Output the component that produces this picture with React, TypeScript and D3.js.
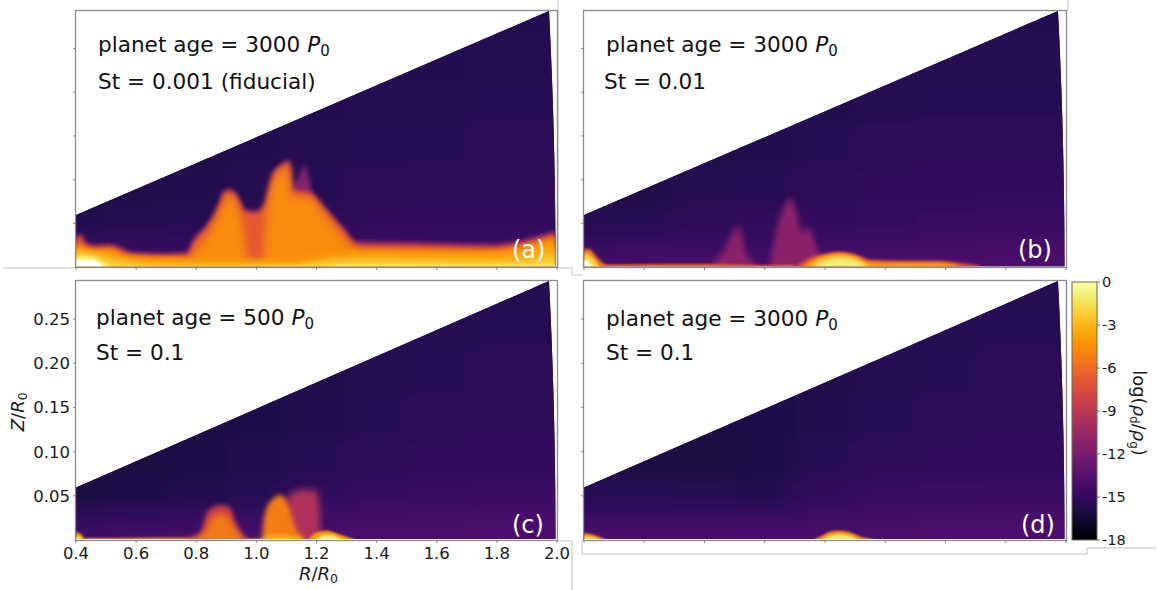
import React from 'react';
import * as d3 from 'd3';

type Pt = [number, number];

// background log(rho_d/rho_g) on a coarse R/Z grid, rows run from the midplane upward
const bgR = [0.4, 0.6, 0.8, 1.0, 1.2, 1.4, 1.6, 1.8, 2.0];
const bgZ = [0.008, 0.025, 0.05, 0.09, 0.14, 0.19, 0.24, 0.29];
const bgA = [
  [-14.7, -14.7, -14.7, -14.7, -14.7, -14.5, -14.5, -14.5, -14.5],
  [-15.2, -15.1, -15.0, -15.0, -14.9, -14.8, -14.8, -14.7, -14.7],
  [-15.6, -15.5, -15.4, -15.4, -15.3, -15.1, -15.0, -15.0, -15.0],
  [-15.8, -15.7, -15.6, -15.5, -15.4, -15.3, -15.2, -15.2, -15.2],
  [-15.8, -15.8, -15.7, -15.6, -15.5, -15.4, -15.4, -15.3, -15.3],
  [-15.8, -15.8, -15.7, -15.7, -15.6, -15.5, -15.5, -15.4, -15.4],
  [-15.8, -15.8, -15.8, -15.7, -15.7, -15.6, -15.6, -15.5, -15.5],
  [-15.8, -15.8, -15.8, -15.8, -15.7, -15.7, -15.6, -15.6, -15.6],
];
const bgB = [
  [-14.3, -14.3, -14.3, -14.3, -14.2, -14.1, -14.0, -14.0, -14.0],
  [-14.9, -14.8, -14.7, -14.7, -14.6, -14.5, -14.4, -14.3, -14.3],
  [-15.5, -15.4, -15.2, -15.1, -15.0, -14.9, -14.8, -14.7, -14.7],
  [-15.8, -15.7, -15.5, -15.4, -15.2, -15.1, -15.0, -15.0, -15.0],
  [-15.9, -15.8, -15.7, -15.6, -15.4, -15.3, -15.2, -15.2, -15.2],
  [-15.9, -15.9, -15.8, -15.7, -15.6, -15.5, -15.4, -15.4, -15.4],
  [-15.9, -15.9, -15.8, -15.8, -15.7, -15.6, -15.5, -15.5, -15.5],
  [-15.9, -15.9, -15.9, -15.8, -15.8, -15.7, -15.6, -15.6, -15.6],
];
const bgC = [
  [-14.5, -14.4, -14.3, -14.2, -14.1, -14.0, -14.0, -13.9, -13.9],
  [-15.2, -15.0, -14.9, -14.8, -14.6, -14.4, -14.3, -14.2, -14.2],
  [-15.9, -15.8, -15.6, -15.4, -15.1, -14.9, -14.8, -14.7, -14.7],
  [-16.0, -15.9, -15.8, -15.6, -15.4, -15.2, -15.1, -15.0, -15.0],
  [-16.0, -16.0, -15.9, -15.8, -15.6, -15.4, -15.3, -15.2, -15.2],
  [-16.0, -16.0, -15.9, -15.8, -15.7, -15.5, -15.4, -15.3, -15.3],
  [-16.0, -16.0, -15.9, -15.9, -15.8, -15.6, -15.5, -15.4, -15.4],
  [-16.0, -16.0, -15.9, -15.9, -15.8, -15.7, -15.6, -15.5, -15.5],
];
const bgD = [
  [-14.1, -14.1, -14.1, -14.2, -14.1, -14.0, -13.9, -13.9, -13.9],
  [-14.7, -14.7, -14.7, -14.8, -14.5, -14.4, -14.3, -14.2, -14.2],
  [-15.4, -15.4, -15.5, -15.6, -15.1, -14.8, -14.7, -14.7, -14.7],
  [-15.8, -15.9, -15.9, -15.8, -15.4, -15.2, -15.1, -15.0, -15.0],
  [-15.9, -15.9, -15.9, -15.8, -15.6, -15.4, -15.3, -15.2, -15.2],
  [-15.9, -15.9, -15.9, -15.8, -15.7, -15.5, -15.4, -15.3, -15.3],
  [-15.9, -15.9, -15.9, -15.8, -15.8, -15.6, -15.5, -15.4, -15.4],
  [-15.9, -15.9, -15.9, -15.9, -15.8, -15.7, -15.6, -15.5, -15.5],
];

// panel (a) contours, [R, Z]
const aFringe: Pt[] = [[0.4, 0.038], [0.419, 0.038], [0.435, 0.0286], [0.469, 0.0259], [0.513, 0.0267], [0.546, 0.0229], [0.591, 0.0171], [0.679, 0.016], [0.768, 0.0171], [0.79, 0.0324], [0.835, 0.0495], [0.879, 0.0762], [0.89, 0.0876], [0.918, 0.0895], [0.94, 0.08], [0.962, 0.0667], [1.0, 0.0655], [1.029, 0.0762], [1.057, 0.1105], [1.112, 0.1227], [1.123, 0.0952], [1.173, 0.0876], [1.234, 0.0667], [1.289, 0.0457], [1.339, 0.0305], [1.456, 0.0297], [1.678, 0.0274], [1.788, 0.0267], [1.899, 0.0324], [1.994, 0.0419]];
const aSpike: Pt[] = [[1.119, 0.09], [1.14, 0.103], [1.162, 0.1162], [1.173, 0.103], [1.19, 0.08]];
const aMid: Pt[] = [[0.4, 0.035], [0.416, 0.035], [0.433, 0.0259], [0.469, 0.0236], [0.513, 0.0244], [0.546, 0.0206], [0.591, 0.0149], [0.679, 0.0137], [0.768, 0.0149], [0.793, 0.0297], [0.837, 0.0472], [0.881, 0.0739], [0.892, 0.0853], [0.916, 0.0869], [0.938, 0.0777], [0.959, 0.064], [1.0, 0.0625], [1.032, 0.0739], [1.059, 0.1082], [1.11, 0.1196], [1.119, 0.0876], [1.173, 0.0853], [1.234, 0.064], [1.287, 0.0434], [1.334, 0.0267], [1.456, 0.0259], [1.678, 0.0244], [1.788, 0.0236], [1.899, 0.0297], [1.994, 0.0389]];
const aPeakLeft: Pt[] = [[0.785, 0.013], [0.815, 0.027], [0.853, 0.044], [0.89, 0.0725], [0.915, 0.082], [0.935, 0.072], [0.955, 0.046], [0.968, 0.013]];
const aPeakRight: Pt[] = [[1.025, 0.013], [1.04, 0.076], [1.07, 0.105], [1.105, 0.114], [1.118, 0.08], [1.17, 0.08], [1.228, 0.059], [1.278, 0.038], [1.322, 0.021], [1.38, 0.013]];
const aBand: Pt[] = [[0.4, 0.03], [0.424, 0.021], [0.469, 0.019], [0.513, 0.02], [0.569, 0.0133], [0.679, 0.0114], [0.768, 0.0107], [1.013, 0.0095], [1.32, 0.0198], [1.456, 0.0198], [1.678, 0.019], [1.788, 0.019], [1.899, 0.0248], [1.994, 0.0343]];
const aAmber: Pt[] = [[0.4, 0.024], [0.45, 0.018], [0.513, 0.015], [0.569, 0.0095], [0.679, 0.0065], [0.9, 0.005], [1.13, 0.005], [1.25, 0.0115], [1.345, 0.015], [1.678, 0.0138], [1.788, 0.0135], [1.899, 0.018], [1.994, 0.0265]];
const aYellow: Pt[] = [[0.4, 0.0171], [0.458, 0.0152], [0.502, 0.0107], [0.569, 0.0057], [0.679, 0.0019], [1.124, 0.0019], [1.19, 0.0055], [1.345, 0.0085], [1.678, 0.0075], [1.788, 0.007], [1.899, 0.009], [1.994, 0.0155]];
const aPale: Pt[] = [[0.4, 0.0133], [0.458, 0.0114], [0.491, 0.0057], [0.525, 0.0007], [0.8, 0.0002], [1.2, 0.0008], [1.345, 0.0028], [1.678, 0.002], [1.994, 0.0035]];
const aWhite: Pt[] = [[0.4, 0.0084], [0.458, 0.0076], [0.486, 0.0019], [0.491, 0.0]];

// panel (b)
const bPeak1: Pt[] = [[0.83, 0.0046], [0.863, 0.0179], [0.89, 0.037], [0.907, 0.0465], [0.924, 0.037], [0.94, 0.0141], [0.973, 0.0027]];
const bPeak2: Pt[] = [[1.018, 0.0046], [1.034, 0.035], [1.056, 0.0617], [1.084, 0.0789], [1.106, 0.0617], [1.123, 0.0389], [1.145, 0.0465], [1.167, 0.0274], [1.184, 0.0141], [1.217, 0.0027]];
const bFloor: Pt[] = [[0.45, 0.0028], [0.6, 0.0032], [0.8, 0.0035], [1.0, 0.002], [1.1, 0.002]];
const bLeftOuter: Pt[] = [[0.4, 0.021], [0.42, 0.02], [0.442, 0.0115], [0.47, 0.0015]];
const bLeftInner: Pt[] = [[0.4, 0.016], [0.42, 0.0135], [0.44, 0.006], [0.45, 0.001]];
const bLeftHot: Pt[] = [[0.4, 0.008], [0.415, 0.006], [0.43, 0.0005]];
const bRightOuter: Pt[] = [[1.106, 0.0015], [1.15, 0.0103], [1.195, 0.0152], [1.25, 0.0175], [1.306, 0.0141], [1.35, 0.0084], [1.46, 0.0072], [1.571, 0.0072], [1.649, 0.0046], [1.715, 0.0015]];
const bRightMid: Pt[] = [[1.13, 0.0015], [1.17, 0.0095], [1.21, 0.0135], [1.25, 0.0155], [1.3, 0.0122], [1.34, 0.0055], [1.46, 0.0045], [1.571, 0.0045], [1.64, 0.0018]];
const bRightHot: Pt[] = [[1.16, 0.001], [1.2, 0.0085], [1.25, 0.0115], [1.3, 0.0085], [1.34, 0.001]];

// panel (c)
const cFloor: Pt[] = [[0.43, 0.0022], [0.6, 0.0025], [0.77, 0.0028], [0.98, 0.0016], [1.03, 0.0018]];
const cBlob1Fringe: Pt[] = [[0.767, 0.0023], [0.8, 0.0049], [0.822, 0.0124], [0.831, 0.0275], [0.855, 0.037], [0.888, 0.0392], [0.916, 0.0351], [0.927, 0.0219], [0.943, 0.0124], [0.96, 0.003], [0.976, 0.0008]];
const cBlob1Core: Pt[] = [[0.8, 0.002], [0.83, 0.01], [0.85, 0.024], [0.885, 0.029], [0.91, 0.024], [0.93, 0.012], [0.955, 0.002]];
const cBlob2Back: Pt[] = [[1.1, 0.048], [1.15, 0.0565], [1.2, 0.0553], [1.21, 0.0361], [1.2125, 0.0085]];
const cBlob2: Pt[] = [[1.019, 0.0021], [1.025, 0.0234], [1.044, 0.0425], [1.081, 0.051], [1.106, 0.0404], [1.131, 0.0128], [1.163, 0.0021]];
const cBlob2Base: Pt[] = [[1.02, 0.0015], [1.06, 0.0055], [1.1, 0.005], [1.15, 0.002]];
const cBlob3: Pt[] = [[1.175, 0.002], [1.2, 0.0085], [1.2375, 0.0106], [1.275, 0.0064], [1.325, 0.0008]];
const cBlob3Hot: Pt[] = [[1.2, 0.001], [1.225, 0.0055], [1.25, 0.0055], [1.28, 0.001]];
const cLeft: Pt[] = [[0.4, 0.009], [0.42, 0.0055], [0.43, 0.0004]];
const cLeftHot: Pt[] = [[0.4, 0.0045], [0.412, 0.003], [0.42, 0.0004]];

// panel (d)
const dLeft: Pt[] = [[0.4, 0.0078], [0.431, 0.0058], [0.47, 0.0006]];
const dLeftHot: Pt[] = [[0.4, 0.0042], [0.425, 0.0032], [0.45, 0.0004]];
const dBump: Pt[] = [[1.162, 0.0004], [1.19, 0.0049], [1.217, 0.0094], [1.25, 0.0106], [1.283, 0.0087], [1.316, 0.0041], [1.361, 0.0008]];
const dBumpHot: Pt[] = [[1.19, 0.0006], [1.22, 0.0052], [1.25, 0.0066], [1.28, 0.005], [1.31, 0.0006]];

const rTicks = [0.4, 0.6, 0.8, 1.0, 1.2, 1.4, 1.6, 1.8, 2.0];
const zTicks = [0.05, 0.1, 0.15, 0.2, 0.25];
const cbarTicks = [0, -3, -6, -9, -12, -15, -18];

const wedgeSlope = 0.1485;
const wedgeR = 1.995;
const zTop = 0.293;

const color = d3.scaleSequential(d3.interpolateInferno).domain([-18, 0]);

type Band = { pts: Pt[]; level: number; blur?: number; fill?: string };

const panels = [
  {
    id: 'a', x0: 76, x1: 557, y0: 267, y1: 11, tag: '(a)', tagX: 512, tagY: 258,
    age: '3000', ageX: 98, ageY: 52, st: 'St = 0.001 (fiducial)', stX: 98, stY: 89,
    bg: bgA,
    bands: [
      { pts: aFringe, level: -12.5, blur: 2 },
      { pts: aSpike, level: -11.5, blur: 2.5 },
      { pts: aMid, level: -6.8, blur: 2.5 },
      { pts: aPeakLeft, level: -4.6, blur: 4 },
      { pts: aPeakRight, level: -4.6, blur: 4 },
      { pts: aBand, level: -4.4, blur: 2.5 },
      { pts: aAmber, level: -3.4, blur: 3 },
      { pts: aYellow, level: -2.2, blur: 2.5 },
      { pts: aPale, level: -0.8, blur: 1.5 },
      { pts: aWhite, level: 0, blur: 1.2, fill: '#fff' },
    ] as Band[],
  },
  {
    id: 'b', x0: 584, x1: 1066, y0: 267, y1: 11, tag: '(b)', tagX: 1018, tagY: 258,
    age: '3000', ageX: 606, ageY: 52, st: 'St = 0.01', stX: 604, stY: 89,
    bg: bgB,
    bands: [
      { pts: bPeak1, level: -11.2, blur: 3 },
      { pts: bPeak2, level: -11.2, blur: 3 },
      { pts: bFloor, level: -6, blur: 0.8 },
      { pts: bLeftOuter, level: -5.5, blur: 1.8 },
      { pts: bLeftInner, level: -1.8, blur: 1.8 },
      { pts: bLeftHot, level: 0, blur: 1.2, fill: '#fff' },
      { pts: bRightOuter, level: -7, blur: 1.8 },
      { pts: bRightMid, level: -3.8, blur: 1.8 },
      { pts: bRightHot, level: -0.8, blur: 2.5 },
    ] as Band[],
  },
  {
    id: 'c', x0: 76, x1: 557, y0: 540, y1: 281, tag: '(c)', tagX: 512, tagY: 533,
    age: '500', ageX: 96, ageY: 325, st: 'St = 0.1', stX: 96, stY: 360,
    bg: bgC,
    bands: [
      { pts: cFloor, level: -5.5, blur: 0.8 },
      { pts: cBlob1Fringe, level: -8.2, blur: 2.5 },
      { pts: cBlob1Core, level: -5.4, blur: 3 },
      { pts: cBlob2Back, level: -9.5, blur: 3.5 },
      { pts: cBlob2, level: -5.2, blur: 2.5 },
      { pts: cBlob2Base, level: -3, blur: 2 },
      { pts: cBlob3, level: -4, blur: 1.2 },
      { pts: cBlob3Hot, level: -0.8, blur: 1 },
      { pts: cLeft, level: -4, blur: 1 },
      { pts: cLeftHot, level: -0.5, blur: 0.8 },
    ] as Band[],
  },
  {
    id: 'd', x0: 584, x1: 1066, y0: 540, y1: 281, tag: '(d)', tagX: 1021, tagY: 533,
    age: '3000', ageX: 606, ageY: 326, st: 'St = 0.1', stX: 606, stY: 360,
    bg: bgD,
    bands: [
      { pts: dLeft, level: -4.5, blur: 1 },
      { pts: dLeftHot, level: -1.5, blur: 0.8 },
      { pts: dBump, level: -4.5, blur: 1.3 },
      { pts: dBumpHot, level: -1, blur: 1.2 },
    ] as Band[],
  },
];

// leftover screenshot rules around the panels
const strayLines: [number, number][][] = [
  [[3, 268], [75, 268]],
  [[558, 0], [558, 268], [572, 268], [572, 275], [583, 275]],
  [[558, 541], [572, 541]],
  [[572, 541], [572, 590]],
  [[582, 541], [582, 554], [1087, 554], [1087, 548], [1156, 548]],
  [[1066, 10], [1068, 10], [1068, 0]],
];

const font = '"DejaVu Sans", sans-serif';
const cbar = { x0: 1072, x1: 1097, y0: 540, y1: 282 };

function Panel({ p }: { p: (typeof panels)[number] }) {
  const x = d3.scaleLinear().domain([0.4, 2.0]).range([p.x0, p.x1]);
  const y = d3.scaleLinear().domain([0, zTop]).range([p.y0, p.y1]);

  // wedge outline: constant-theta surface, then the outer radius arc
  const zTopEdge = y.domain()[1];
  const arcZ = d3.range(0, 13).map(i => zTopEdge * (1 - i / 12));
  const rTop = Math.sqrt(wedgeR * wedgeR - zTopEdge * zTopEdge);
  const outline = [
    [0.4, 0.001],
    [0.4, 0.4 * wedgeSlope],
    [rTop, zTopEdge],
    ...arcZ.map(z => [Math.sqrt(wedgeR * wedgeR - z * z), Math.max(z, 0.001)]),
  ];
  const wedge = d3.line().x(d => x(d[0])).y(d => y(d[1]))(outline as Pt[]) + 'Z';

  const area = d3
    .area<Pt>()
    .x(d => x(d[0]))
    .y0(p.y0 + 4)
    .y1(d => y(d[1]))
    .curve(d3.curveMonotoneX);

  // cell edges sit half way between grid nodes, outer ones pushed past the frame
  const xEdges = bgR.map((r, i) => (i === 0 ? p.x0 - 60 : (x(r) + x(bgR[i - 1])) / 2));
  xEdges.push(p.x1 + 60);
  const yEdges = bgZ.map((z, i) => (i === 0 ? p.y0 + 60 : (y(z) + y(bgZ[i - 1])) / 2));
  yEdges.push(p.y1 - 60);

  const blurs = Array.from(new Set(p.bands.map(b => b.blur ?? 1.5)));

  return (
    <g>
      <defs>
        <clipPath id={`wedge-${p.id}`}>
          <path d={wedge} />
        </clipPath>
        <filter id={`bg-${p.id}`} filterUnits="userSpaceOnUse" x={p.x0 - 80} y={p.y1 - 80} width={p.x1 - p.x0 + 160} height={p.y0 - p.y1 + 160}>
          <feGaussianBlur stdDeviation="14 8" />
        </filter>
        {blurs.map(b => (
          <filter key={b} id={`blur-${p.id}-${String(b).replace('.', '_')}`} filterUnits="userSpaceOnUse" x={p.x0 - 40} y={p.y1 - 40} width={p.x1 - p.x0 + 80} height={p.y0 - p.y1 + 80}>
            <feGaussianBlur stdDeviation={b} />
          </filter>
        ))}
      </defs>
      <g clipPath={`url(#wedge-${p.id})`}>
        <rect x={p.x0} y={p.y1} width={p.x1 - p.x0} height={p.y0 - p.y1} fill={color(-15.5)} />
        <g filter={`url(#bg-${p.id})`}>
          {p.bg.map((row, j) =>
            row.map((v, i) => (
              <rect
                key={`${i}-${j}`}
                x={xEdges[i]}
                y={yEdges[j + 1]}
                width={xEdges[i + 1] - xEdges[i] + 0.5}
                height={yEdges[j] - yEdges[j + 1] + 0.5}
                fill={color(v)}
              />
            ))
          )}
        </g>
        {p.bands.map((b, i) => (
          <path
            key={i}
            d={area(b.pts) as string}
            fill={b.fill ?? color(b.level)}
            filter={`url(#blur-${p.id}-${String(b.blur ?? 1.5).replace('.', '_')})`}
          />
        ))}
      </g>
      <rect x={p.x0 - 0.5} y={p.y1 - 0.5} width={p.x1 - p.x0 + 1} height={p.y0 - p.y1 + 1} fill="none" stroke="#8c8c8c" strokeWidth={1.3} />
      {rTicks.map(t => (
        <line key={t} x1={x(t)} x2={x(t)} y1={p.y0} y2={p.y0 + 3} stroke="#777" strokeWidth={0.8} />
      ))}
      {zTicks.map(t => (
        <line key={t} x1={p.x0} x2={p.x0 - 3} y1={y(t)} y2={y(t)} stroke="#777" strokeWidth={0.8} />
      ))}
      <text x={p.ageX} y={p.ageY} fontSize={21.6} fill="#111">
        planet age = {p.age} <tspan fontStyle="italic">P</tspan>
        <tspan fontSize={15} dy={4}>0</tspan>
      </text>
      <text x={p.stX} y={p.stY} fontSize={21.6} fill="#111">{p.st}</text>
      <text x={p.tagX} y={p.tagY} fontSize={24} fill="#fff">{p.tag}</text>
      {p.id === 'c' && (
        <g fontSize={16.5} fill="#1a1a1a">
          {rTicks.map(t => (
            <text key={t} x={x(t)} y={p.y0 + 19} textAnchor="middle">{d3.format('.1f')(t)}</text>
          ))}
          {zTicks.map(t => (
            <text key={t} x={p.x0 - 6} y={y(t) + 6} textAnchor="end">{d3.format('.2f')(t)}</text>
          ))}
          <text x={(p.x0 + p.x1) / 2 + 2} y={p.y0 + 40} textAnchor="middle" fontSize={18}>
            <tspan fontStyle="italic">R</tspan>/<tspan fontStyle="italic">R</tspan>
            <tspan fontSize={12.5} dy={3}>0</tspan>
          </text>
          <text transform={`translate(24,${y(0.145)}) rotate(-90)`} textAnchor="middle" fontSize={18}>
            <tspan fontStyle="italic">Z</tspan>/<tspan fontStyle="italic">R</tspan>
            <tspan fontSize={12.5} dy={3}>0</tspan>
          </text>
        </g>
      )}
    </g>
  );
}

function Colorbar() {
  const y = d3.scaleLinear().domain([-18, 0]).range([cbar.y0, cbar.y1]);
  const stops = d3.range(0, 33).map(i => i / 32);
  return (
    <g>
      <defs>
        <linearGradient id="cbar-grad" x1="0" y1="1" x2="0" y2="0">
          {stops.map(s => (
            <stop key={s} offset={s} stopColor={d3.interpolateInferno(s)} />
          ))}
        </linearGradient>
      </defs>
      <rect x={cbar.x0} y={cbar.y1} width={cbar.x1 - cbar.x0} height={cbar.y0 - cbar.y1} fill="url(#cbar-grad)" stroke="#6f6a4a" strokeWidth={1} />
      {cbarTicks.map(t => (
        <g key={t}>
          <line x1={cbar.x1} x2={cbar.x1 + 3} y1={y(t)} y2={y(t)} stroke="#555" strokeWidth={0.8} />
          <text x={cbar.x1 + 5} y={y(t) + 5} fontSize={14.5} fill="#1a1a1a">{t}</text>
        </g>
      ))}
      <text transform={`translate(1133,${y(-9) + 2}) rotate(90)`} textAnchor="middle" fontSize={18} fill="#1a1a1a">
        log(<tspan fontStyle="italic">ρ</tspan><tspan fontSize={12} dy={3}>d</tspan><tspan dy={-3}>/</tspan><tspan fontStyle="italic">ρ</tspan><tspan fontSize={12} dy={3}>g</tspan><tspan dy={-3}>)</tspan>
      </text>
    </g>
  );
}

export default function App() {
  return (
    <svg width={1158} height={590} style={{ position: 'absolute', left: 0, top: 0, fontFamily: font }}>
      <rect width={1158} height={590} fill="#fff" />
      {strayLines.map((l, i) => (
        <path key={i} d={d3.line()(l) as string} fill="none" stroke="#c4c4c4" strokeWidth={1} />
      ))}
      {panels.map(p => (
        <Panel key={p.id} p={p} />
      ))}
      <Colorbar />
    </svg>
  );
}
